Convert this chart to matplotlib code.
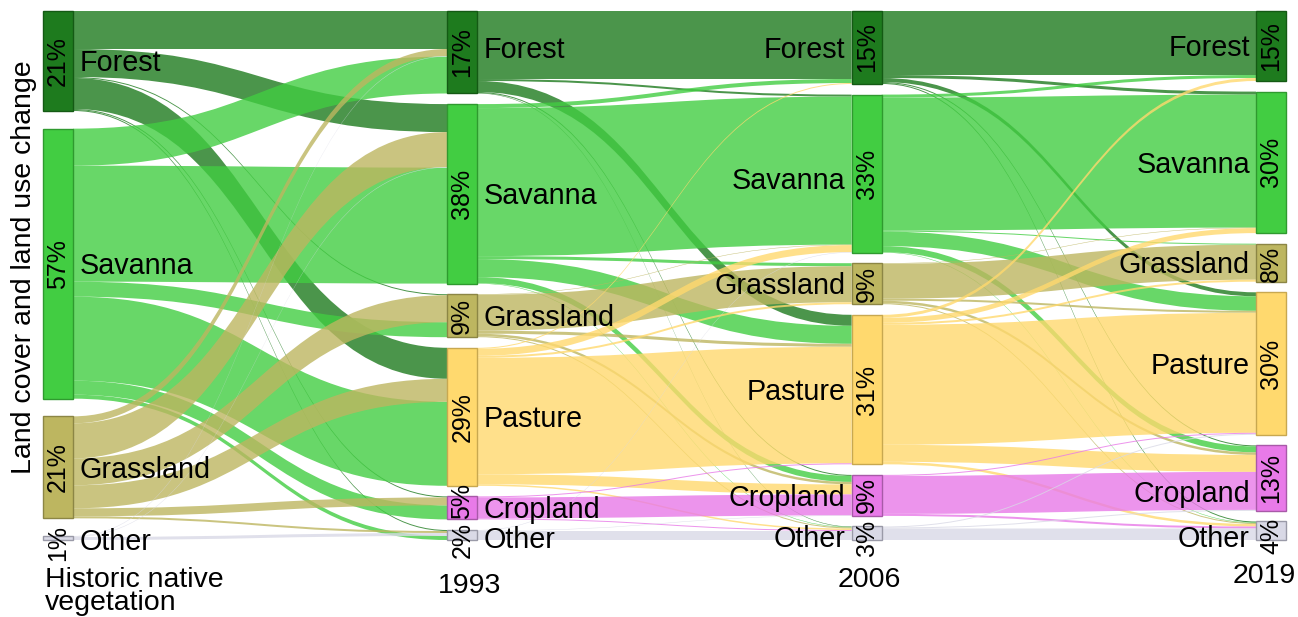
import numpy as np
import matplotlib.pyplot as plt
from matplotlib.patches import Rectangle, PathPatch
from matplotlib.path import Path

plt.rcParams['font.family'] = ['Liberation Sans', 'DejaVu Sans']

# classes at each step, top to bottom
classes_hist = ['Forest', 'Savanna', 'Grassland', 'Other']
classes = ['Forest', 'Savanna', 'Grassland', 'Pasture', 'Cropland', 'Other']
step_labels = ['Historic native\nvegetation', '1993', '2006', '2019']

# share printed on each box
pct_hist = ['21%', '57%', '21%', '1%']
pct_1993 = ['17%', '38%', '9%', '29%', '5%', '2%']
pct_2006 = ['15%', '33%', '9%', '31%', '9%', '3%']
pct_2019 = ['15%', '30%', '8%', '30%', '13%', '4%']

# transitions (relative area, every step sums to 476)
# rows = class at the earlier step, cols = class at the later step
hist_to_1993 = [
    [38, 28, 1, 31, 1, 1],
    [37, 116, 15, 84, 14, 4],
    [7, 35, 27, 23, 8, 2],
    [0.5, 0.5, 0, 0, 0, 3],
]
y1993_to_2006 = [
    [68, 2, 0, 11, 1, 0.5],
    [4, 148, 3, 18, 6, 0.5],
    [0, 0.5, 36, 3, 2.5, 1],
    [1, 7, 2, 116.5, 10, 1.5],
    [0, 0, 0, 1, 21, 1],
    [0, 0.5, 0, 0, 0.5, 9],
]
y2006_to_2019 = [
    [64, 3, 0, 4, 1, 1],
    [3, 133, 1, 14.5, 6, 0.5],
    [0, 0.5, 35, 2, 2.5, 1],
    [3, 5, 2, 120, 17, 2.5],
    [0, 0, 0, 1, 38, 2],
    [0, 0, 0, 1, 1, 11.5],
]

colors = {
    'Forest': '#1e7b1e',
    'Savanna': '#42cd42',
    'Grassland': '#bdb660',
    'Pasture': '#ffd96e',
    'Cropland': '#e87ae8',
    'Other': '#d9d9e6',
}
edges = {
    'Forest': '#145a14',
    'Savanna': '#2f9a2f',
    'Grassland': '#8c8645',
    'Pasture': '#c8a850',
    'Cropland': '#a85aa8',
    'Other': '#9a9aa8',
}

# layout in pixels of the 1298x617 canvas
W_PX, H_PX = 1298, 617
X0_PX, COL_PX, BOX_PX = 43, 404.33, 30
TOP_PX, SPAN_PX, UNIT_PX = 11, 529, 4.76
BOX_W = BOX_PX / COL_PX
SPAN = SPAN_PX / UNIT_PX
NAME_FS, PCT_FS = 20.7, 18
# small vertical nudges (px) for a few class names
name_nudge = {(1, 'Forest'): -5, (2, 'Savanna'): 5, (0, 'Other'): 2,
              (1, 'Other'): 3, (2, 'Other'): 3, (3, 'Other'): 6,
              (3, 'Cropland'): 14}


def stack(sizes):
    gap = (SPAN - sum(sizes)) / (len(sizes) - 1)
    tops, y = [], 0.0
    for s in sizes:
        tops.append(y)
        y += s + gap
    return tops


def flow_patch(xa, xb, ya, yb, h, color):
    xm = (xa + xb) / 2
    verts = [(xa, ya), (xm, ya), (xm, yb), (xb, yb),
             (xb, yb + h), (xm, yb + h), (xm, ya + h), (xa, ya + h), (xa, ya)]
    codes = [Path.MOVETO, Path.CURVE4, Path.CURVE4, Path.CURVE4,
             Path.LINETO, Path.CURVE4, Path.CURVE4, Path.CURVE4, Path.CLOSEPOLY]
    return PathPatch(Path(verts, codes), facecolor=color, edgecolor='none',
                     lw=0, alpha=0.8, zorder=1)


def main():
    mats = [np.array(m, float) for m in (hist_to_1993, y1993_to_2006, y2006_to_2019)]
    total = mats[0].sum()
    mats = [m / total * 100 for m in mats]

    col_classes = [classes_hist, classes, classes, classes]
    col_pct = [pct_hist, pct_1993, pct_2006, pct_2019]
    col_sizes = [mats[0].sum(axis=1)] + [m.sum(axis=0) for m in mats]
    col_tops = [stack(s) for s in col_sizes]

    fig = plt.figure(figsize=(W_PX / 100, H_PX / 100), dpi=100)
    ax = fig.add_axes([0, 0, 1, 1])
    ax.set_xlim(-X0_PX / COL_PX, (W_PX - X0_PX) / COL_PX)
    ax.set_ylim((H_PX - TOP_PX) / UNIT_PX, -TOP_PX / UNIT_PX)
    ax.axis('off')

    # incoming order at the 1993 boxes differs from the later steps
    in_orders = [[0, 2, 3, 1], list(range(6)), list(range(6))]

    for i, m in enumerate(mats):
        src_tops, tgt_tops = col_tops[i], col_tops[i + 1]
        n_src, n_tgt = m.shape
        src_off = np.zeros((n_src, n_tgt))
        for s in range(n_src):
            y = src_tops[s]
            for t in range(n_tgt):
                src_off[s, t] = y
                y += m[s, t]
        tgt_off = np.zeros((n_src, n_tgt))
        for t in range(n_tgt):
            y = tgt_tops[t]
            for s in in_orders[i]:
                tgt_off[s, t] = y
                y += m[s, t]
        for s in range(n_src):
            c = colors[col_classes[i][s]]
            for t in range(n_tgt):
                if m[s, t] <= 0:
                    continue
                ax.add_patch(flow_patch(i + BOX_W, i + 1, src_off[s, t],
                                        tgt_off[s, t], m[s, t], c))

    cap_half = 0.716 * NAME_FS * 100 / 72 / 2 / UNIT_PX
    px = 1 / UNIT_PX
    for i in range(4):
        n = len(col_classes[i])
        for k, (name, top, size, pct) in enumerate(zip(col_classes[i], col_tops[i],
                                                       col_sizes[i], col_pct[i])):
            ax.add_patch(Rectangle((i, top), BOX_W, size, facecolor=colors[name],
                                   edgecolor=edges[name], lw=1, zorder=3))
            mid = top + size / 2
            # percentages that do not fit hang out of the box
            if size * UNIT_PX >= 40:
                ax.text(i + BOX_W / 2, mid, pct, rotation=90, ha='center',
                        va='center', fontsize=PCT_FS, zorder=4)
            elif k == n - 1:
                ax.text(i + BOX_W / 2, mid + 5 * px, pct, rotation=90,
                        ha='center', va='center', fontsize=PCT_FS, zorder=4)
            else:
                ax.text(i + BOX_W / 2, top + size, pct, rotation=90,
                        ha='center', va='bottom', fontsize=PCT_FS, zorder=4)

            yb = mid + cap_half + name_nudge.get((i, name), 0) * px
            if i < 2:
                ax.text(i + BOX_W + 0.016, yb, name, ha='left', va='baseline',
                        fontsize=NAME_FS, zorder=4)
            else:
                ax.text(i - 0.015, yb, name, ha='right', va='baseline',
                        fontsize=NAME_FS, zorder=4)

    fig.text(24 / W_PX, 1 - 267 / H_PX, 'Land cover and land use change',
             rotation=90, ha='center', va='center', fontsize=20.5)

    # step names under each column
    fig.text(45 / W_PX, 1 - 567 / H_PX, step_labels[0], ha='left', va='top',
             fontsize=20.5, linespacing=0.85)
    fig.text(470 / W_PX, 1 - 586 / H_PX, step_labels[1], ha='center',
             va='center', fontsize=20.5)
    fig.text(869 / W_PX, 1 - 580 / H_PX, step_labels[2], ha='center',
             va='center', fontsize=20.5)
    fig.text(1264 / W_PX, 1 - 576 / H_PX, step_labels[3], ha='center',
             va='center', fontsize=20.5)

    fig.savefig('out.png', dpi=100, facecolor='white')


if __name__ == '__main__':
    main()
